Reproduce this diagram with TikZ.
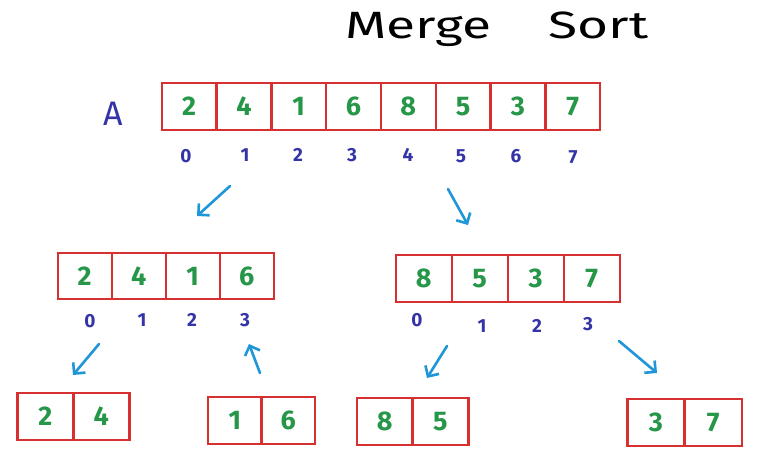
\documentclass[tikz,border=0pt]{standalone}
\usepackage{fontspec}
\setmainfont{Fira Sans}
\usepackage{tikz}
\usetikzlibrary{arrows.meta}

\definecolor{boxred}{RGB}{214,48,48}
\definecolor{digitgreen}{RGB}{38,150,72}
\definecolor{indexblue}{RGB}{52,52,168}
\definecolor{arrowblue}{RGB}{30,150,215}

\begin{document}
\begin{tikzpicture}[x=1pt,y=-1pt,cell/.style={draw=boxred,line width=2.4pt,rectangle,inner sep=0pt,minimum height=47pt,text=digitgreen,font=\fontsize{27}{27}\selectfont\bfseries},index/.style={text=indexblue,font=\fontsize{19}{19}\selectfont\bfseries},split/.style={draw=arrowblue,line width=2.6pt,line cap=round,-{Straight Barb[length=8pt,width=16pt,line width=2.6pt]}}]
\useasboundingbox (0,0) rectangle (776,461);
\node[font=\fontsize{38}{38}\selectfont] (title) at (497,29) {\scalebox{1.4}[1]{Merge\hspace{41pt}Sort}};
\node[text=indexblue,font=\fontsize{34}{34}\selectfont] (name) at (113,114) {A};
% top array
\node[cell,minimum width=54.8pt] (a0) at (189.1,106.3) {2};
\node[cell,minimum width=54.8pt] (a1) at (243.9,106.3) {4};
\node[cell,minimum width=54.8pt] (a2) at (298.7,106.3) {1};
\node[cell,minimum width=54.8pt] (a3) at (353.5,106.3) {6};
\node[cell,minimum width=54.8pt] (a4) at (408.3,106.3) {8};
\node[cell,minimum width=54.8pt] (a5) at (463.1,106.3) {5};
\node[cell,minimum width=54.8pt] (a6) at (517.9,106.3) {3};
\node[cell,minimum width=54.8pt] (a7) at (572.7,106.3) {7};
\node[index] (i0) at (186,156) {0};
\node[index] (i1) at (245,155) {1};
\node[index] (i2) at (298,155) {2};
\node[index] (i3) at (352,155) {3};
\node[index] (i4) at (408,155) {4};
\node[index] (i5) at (461,156) {5};
\node[index] (i6) at (516,156) {6};
\node[index] (i7) at (573,157) {7};
% left half
\node[cell,minimum width=54pt,minimum height=46pt] (l0) at (84.7,276) {2};
\node[cell,minimum width=54pt,minimum height=46pt] (l1) at (138.7,276) {4};
\node[cell,minimum width=54pt,minimum height=46pt] (l2) at (192.7,276) {1};
\node[cell,minimum width=54pt,minimum height=46pt] (l3) at (246.7,276) {6};
\node[index] (j0) at (90,321) {0};
\node[index] (j1) at (142,320) {1};
\node[index] (j2) at (192,320) {2};
\node[index] (j3) at (245,320) {3};
% right half
\node[cell,minimum width=56pt] (r0) at (423.7,278.5) {8};
\node[cell,minimum width=56pt] (r1) at (479.7,278.5) {5};
\node[cell,minimum width=56pt] (r2) at (535.7,278.5) {3};
\node[cell,minimum width=56pt] (r3) at (591.7,278.5) {7};
\node[index] (k0) at (417,320) {0};
\node[index] (k1) at (482,326) {1};
\node[index] (k2) at (537,326) {2};
\node[index] (k3) at (588,324) {3};
% quarters
\node[cell,minimum width=56pt] (p0) at (45.3,416.5) {2};
\node[cell,minimum width=56pt] (p1) at (101.3,416.5) {4};
\node[cell,minimum width=53.5pt] (q0) at (234.8,420.5) {1};
\node[cell,minimum width=53.5pt] (q1) at (288.3,420.5) {6};
\node[cell,minimum width=55.8pt] (s0) at (384.6,421.5) {8};
\node[cell,minimum width=55.8pt] (s1) at (440.4,421.5) {5};
\node[cell,minimum width=57.2pt] (t0) at (655.9,422.5) {3};
\node[cell,minimum width=57.2pt] (t1) at (713.1,422.5) {7};
% arrows
\coordinate (dl0) at (230,186);
\coordinate (dl1) at (197,216);
\coordinate (dr0) at (448,189);
\coordinate (dr1) at (468,225);
\coordinate (ll0) at (99,344);
\coordinate (ll1) at (73,375);
\coordinate (lr0) at (260,373);
\coordinate (lr1) at (249,344);
\coordinate (rl0) at (447,346);
\coordinate (rl1) at (427,378);
\coordinate (rr0) at (619,341);
\coordinate (rr1) at (657,373);
\draw[split] (dl0) -- (dl1);
\draw[split] (dr0) -- (dr1);
\draw[split] (ll0) -- (ll1);
\draw[split] (lr0) -- (lr1);
\draw[split] (rl0) -- (rl1);
\draw[split] (rr0) -- (rr1);
\end{tikzpicture}
\end{document}
